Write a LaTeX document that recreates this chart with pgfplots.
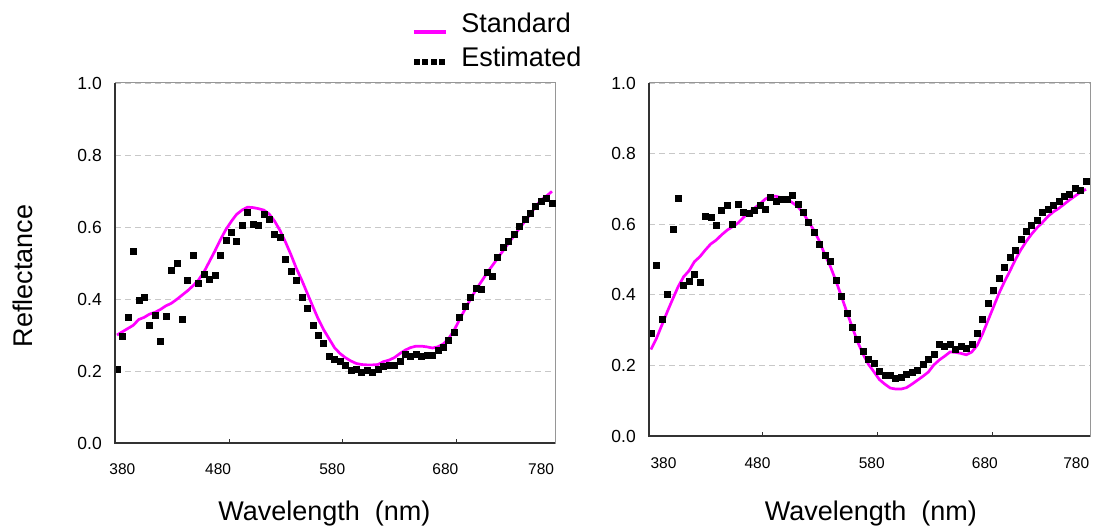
\documentclass[border=0pt]{standalone}
\usepackage{fontspec}
\setmainfont{Liberation Sans}
\usepackage{pgfplots}
\usepackage{pgfplotstable}
\pgfplotsset{compat=1.18}
\definecolor{stdmag}{RGB}{255,0,255}
\definecolor{gridgray}{RGB}{200,200,200}
\definecolor{spinegray}{RGB}{150,150,150}
\definecolor{spinedark}{RGB}{50,50,50}

\pgfplotstableread{
wl est std
380 0.205 0.300
385 0.296 0.309
390 0.349 0.318
395 0.534 0.327
400 0.398 0.343
405 0.404 0.349
410 0.326 0.358
415 0.356 0.363
420 0.284 0.371
425 0.352 0.381
430 0.481 0.388
435 0.500 0.399
440 0.345 0.411
445 0.451 0.423
450 0.522 0.437
455 0.443 0.453
460 0.469 0.475
465 0.455 0.504
470 0.466 0.533
475 0.522 0.564
480 0.564 0.592
485 0.586 0.615
490 0.560 0.635
495 0.605 0.647
500 0.640 0.655
505 0.609 0.654
510 0.605 0.651
515 0.636 0.647
520 0.621 0.636
525 0.580 0.616
530 0.571 0.590
535 0.511 0.558
540 0.477 0.523
545 0.451 0.485
550 0.405 0.452
555 0.375 0.416
560 0.326 0.380
565 0.299 0.345
570 0.276 0.315
575 0.240 0.290
580 0.233 0.265
585 0.227 0.249
590 0.216 0.237
595 0.202 0.228
600 0.205 0.221
605 0.198 0.218
610 0.201 0.217
615 0.198 0.217
620 0.205 0.218
625 0.213 0.226
630 0.216 0.230
635 0.216 0.237
640 0.227 0.248
645 0.247 0.258
650 0.240 0.265
655 0.247 0.269
660 0.240 0.269
665 0.243 0.267
670 0.243 0.264
675 0.258 0.267
680 0.266 0.275
685 0.285 0.290
690 0.307 0.313
695 0.349 0.343
700 0.379 0.371
705 0.405 0.399
710 0.431 0.425
715 0.428 0.448
720 0.474 0.471
725 0.463 0.492
730 0.515 0.513
735 0.545 0.534
740 0.560 0.555
745 0.580 0.575
750 0.602 0.596
755 0.622 0.615
760 0.639 0.635
765 0.659 0.657
770 0.672 0.675
775 0.679 0.686
780 0.666 0.699
}\leftdata

\pgfplotstableread{
wl est std
380 0.290 0.245
385 0.484 0.276
390 0.330 0.314
395 0.403 0.352
400 0.585 0.388
405 0.674 0.423
410 0.427 0.451
415 0.439 0.468
420 0.458 0.494
425 0.435 0.508
430 0.623 0.527
435 0.620 0.544
440 0.597 0.555
445 0.640 0.570
450 0.654 0.583
455 0.600 0.593
460 0.658 0.603
465 0.635 0.619
470 0.631 0.633
475 0.639 0.645
480 0.654 0.657
485 0.642 0.671
490 0.677 0.679
495 0.665 0.679
500 0.670 0.675
505 0.670 0.671
510 0.681 0.661
515 0.658 0.650
520 0.635 0.631
525 0.607 0.607
530 0.577 0.582
535 0.543 0.551
540 0.512 0.513
545 0.495 0.480
550 0.442 0.440
555 0.395 0.397
560 0.349 0.352
565 0.307 0.309
570 0.275 0.267
575 0.241 0.232
580 0.217 0.203
585 0.206 0.182
590 0.183 0.160
595 0.171 0.147
600 0.171 0.136
605 0.164 0.133
610 0.167 0.133
615 0.175 0.137
620 0.180 0.147
625 0.186 0.158
630 0.202 0.169
635 0.217 0.181
640 0.233 0.201
645 0.259 0.215
650 0.253 0.226
655 0.260 0.238
660 0.247 0.237
665 0.255 0.234
670 0.249 0.230
675 0.260 0.238
680 0.290 0.257
685 0.330 0.290
690 0.377 0.328
695 0.412 0.366
700 0.446 0.404
705 0.477 0.437
710 0.507 0.467
715 0.526 0.499
720 0.558 0.527
725 0.580 0.551
730 0.597 0.572
735 0.611 0.590
740 0.635 0.605
745 0.643 0.622
750 0.654 0.635
755 0.666 0.645
760 0.678 0.657
765 0.686 0.669
770 0.702 0.680
775 0.697 0.691
780 0.721 0.699
}\rightdata

\pgfplotsset{
  refstyle/.style={
    scale only axis,
    anchor=south west,
    ymin=0, ymax=1,
    ytick={0,0.2,0.4,0.6,0.8,1.0},
    /pgf/number format/fixed,
    /pgf/number format/fixed zerofill,
    /pgf/number format/precision=1,
    /pgf/number format/assume math mode=true,
    yticklabel style={font=\fontsize{17.5bp}{20bp}\selectfont, inner sep=0pt, xshift=-13bp},
    ytick style={draw=none},
    xticklabel style={font=\fontsize{15.5bp}{18bp}\selectfont, inner sep=0pt, anchor=north},
    xtick style={draw=none},
    ymajorgrids,
    major grid style={gridgray, dash pattern=on 6bp off 4bp, line width=0.8bp},
    axis line style={spinegray, line width=1bp},
    label style={font=\fontsize{27bp}{31bp}\selectfont},
    extra x tick labels={},
    extra x tick style={xtick style={draw=spinedark, line width=1bp}, major tick length=4bp, tick pos=bottom, tick align=inside, grid=none},
    after end axis/.code={
      \draw[spinedark, line width=1.3bp] (rel axis cs:0,1) -- (rel axis cs:0,0) -- (rel axis cs:1,0);
    },
  }
}

\begin{document}
\begin{tikzpicture}
\path[use as bounding box] (0,0) rectangle (1097bp,531bp);

\begin{axis}[refstyle,
  at={(115bp,88bp)}, width=440bp, height=360bp,
  xmin=378.2, xmax=782.8,
  xtick={385,473,578,682,770},
  xticklabels={380,480,580,680,780},
  xticklabel style={yshift=-20.5bp},
  extra x ticks={483.5,587,692.5},
  ylabel={Reflectance},
  ylabel style={at={(axis description cs:-0.209,0.464)}, anchor=center},
  xlabel={Wavelength~~(nm)},
  xlabel style={at={(axis description cs:0.476,-0.197)}, anchor=center},
  legend style={draw=none, fill=none, at={(axis description cs:0.675,1.198)}, anchor=north west,
    font=\fontsize{27bp}{31bp}\selectfont, inner sep=0pt, row sep=11bp, column sep=13bp,
    nodes={inner sep=1bp}},
  legend cell align=left,
]
\addplot[stdmag, line width=2.7bp, no marks,
  legend image code/.code={\draw[stdmag, line width=3.2bp] (0bp,-8.5bp) -- (32bp,-8.5bp);}]
  table[x=wl, y=std] {\leftdata};
\addlegendentry{Standard}
\addplot[only marks, mark=square*, mark size=3bp, black,
  legend image code/.code={\foreach \i in {0,1,2,3} {\fill[black] (\i*8.5bp,-6.5bp) rectangle ++(5bp,5bp);}}]
  table[x=wl, y=est] {\leftdata};
\addlegendentry{Estimated}
\end{axis}

\begin{axis}[refstyle,
  at={(649bp,95bp)}, width=441bp, height=353bp,
  xmin=378.2, xmax=783.7,
  xtick={391.5,478,583,687,771},
  xticklabels={380,480,580,680,780},
  xticklabel style={yshift=-21bp},
  extra x ticks={483,588.7,693.6},
  xlabel={Wavelength~~(nm)},
  xlabel style={at={(axis description cs:0.503,-0.221)}, anchor=center},
]
\addplot[stdmag, line width=2.7bp, no marks] table[x=wl, y=std] {\rightdata};
\addplot[only marks, mark=square*, mark size=3bp, black] table[x=wl, y=est] {\rightdata};
\end{axis}
\end{tikzpicture}
\end{document}
